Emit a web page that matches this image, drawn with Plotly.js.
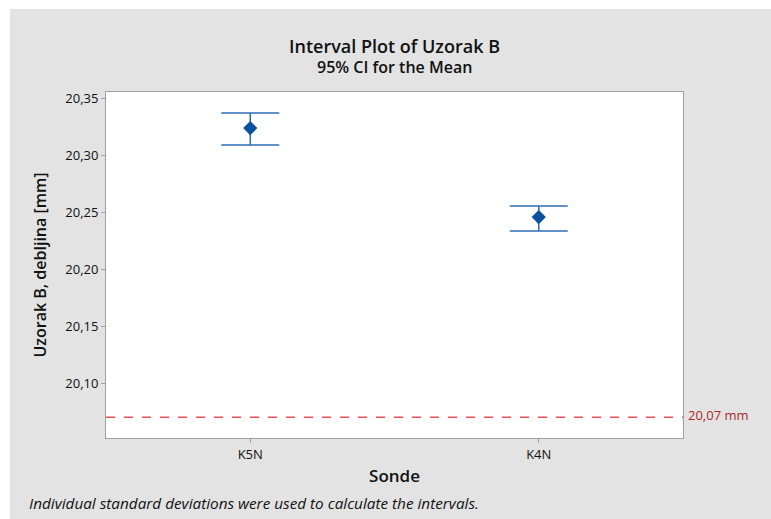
<!DOCTYPE html>
<html>
<head>
<meta charset="utf-8">
<script src="https://cdn.plot.ly/plotly-3.0.1.min.js"></script>
<style>
  html, body { margin: 0; padding: 0; background: #ffffff; width: 771px; height: 519px; overflow: hidden; }
  #chart { position: absolute; left: 10px; top: 9px; width: 761px; height: 510px; }
</style>
</head>
<body>
<div id="chart"></div>
<script>
// Data
const categories = ["K5N", "K4N"];
const means = [20.3237, 20.2456];
const upper = [20.3368, 20.2553];
const lower = [20.3088, 20.2333];
const referenceValue = 20.07;
const referenceLabel = "20,07 mm";
const yTicks = [20.10, 20.15, 20.20, 20.25, 20.30, 20.35];

const errPlus = means.map((m, i) => upper[i] - m);
const errMinus = means.map((m, i) => m - lower[i]);

const font = "'Open Sans', 'Noto Sans', sans-serif";

const trace = {
  type: "scatter",
  mode: "markers",
  x: categories,
  y: means,
  marker: { symbol: "diamond", size: 11, color: "#0852A0" },
  error_y: {
    type: "data",
    symmetric: false,
    array: errPlus,
    arrayminus: errMinus,
    color: "#2E6DB4",
    thickness: 1.5,
    width: 29
  },
  hoverinfo: "skip",
  showlegend: false
};

const layout = {
  width: 761,
  height: 510,
  paper_bgcolor: "#E3E3E3",
  plot_bgcolor: "#ffffff",
  separators: ",.",
  margin: { l: 96, r: 88, t: 83, b: 81 },
  font: { family: font, color: "#111111" },
  title: { text: "" },
  xaxis: {
    type: "category",
    range: [-0.5, 1.5],
    showline: true, mirror: true, linecolor: "#A0A0A0", linewidth: 1,
    ticks: "outside", ticklen: 4, tickcolor: "#A0A0A0",
    showgrid: false, zeroline: false,
    tickfont: { size: 13, family: font, color: "#111111", weight: 500 },
    title: { text: "Sonde", font: { size: 17, family: font, color: "#111111", weight: 600 }, standoff: 8 }
  },
  yaxis: {
    range: [20.0518, 20.3553],
    tickvals: yTicks,
    tickformat: ".2f",
    showline: true, mirror: true, linecolor: "#A0A0A0", linewidth: 1,
    ticks: "outside", ticklen: 4, tickcolor: "#A0A0A0",
    showgrid: false, zeroline: false,
    tickfont: { size: 13, family: font, color: "#111111", weight: 500 },
    title: { text: "Uzorak B, debljina [mm]", font: { size: 16, family: font, color: "#111111", weight: 600 }, standoff: 14 }
  },
  shapes: [{
    type: "line", xref: "paper", x0: 0, x1: 1, yref: "y", y0: referenceValue, y1: referenceValue,
    line: { color: "#E8505A", width: 1.3, dash: "dash" }
  }],
  annotations: [
    { text: "Interval Plot of Uzorak B", xref: "paper", yref: "paper", x: 0.5, y: 1, xanchor: "center",
      yshift: 60, showarrow: false, font: { size: 18, family: font, color: "#111111", weight: 600 } },
    { text: "95% CI for the Mean", xref: "paper", yref: "paper", x: 0.5, y: 1, xanchor: "center",
      yshift: 38, showarrow: false, font: { size: 16, family: font, color: "#111111", weight: 600 } },
    { text: referenceLabel, xref: "paper", yref: "y", x: 1, y: referenceValue, xanchor: "left", xshift: 3, yshift: 2,
      showarrow: false, font: { size: 13, family: font, color: "#A8282C" } },
    { text: "<i>Individual standard deviations were used to calculate the intervals.</i>", xref: "paper", yref: "paper",
      x: 0, y: 0, xanchor: "left", yanchor: "middle", xshift: -79, yshift: -65, showarrow: false,
      font: { size: 15.3, family: font, color: "#111111" } }
  ]
};

Plotly.newPlot("chart", [trace], layout, { displayModeBar: false, staticPlot: true });
</script>
</body>
</html>
